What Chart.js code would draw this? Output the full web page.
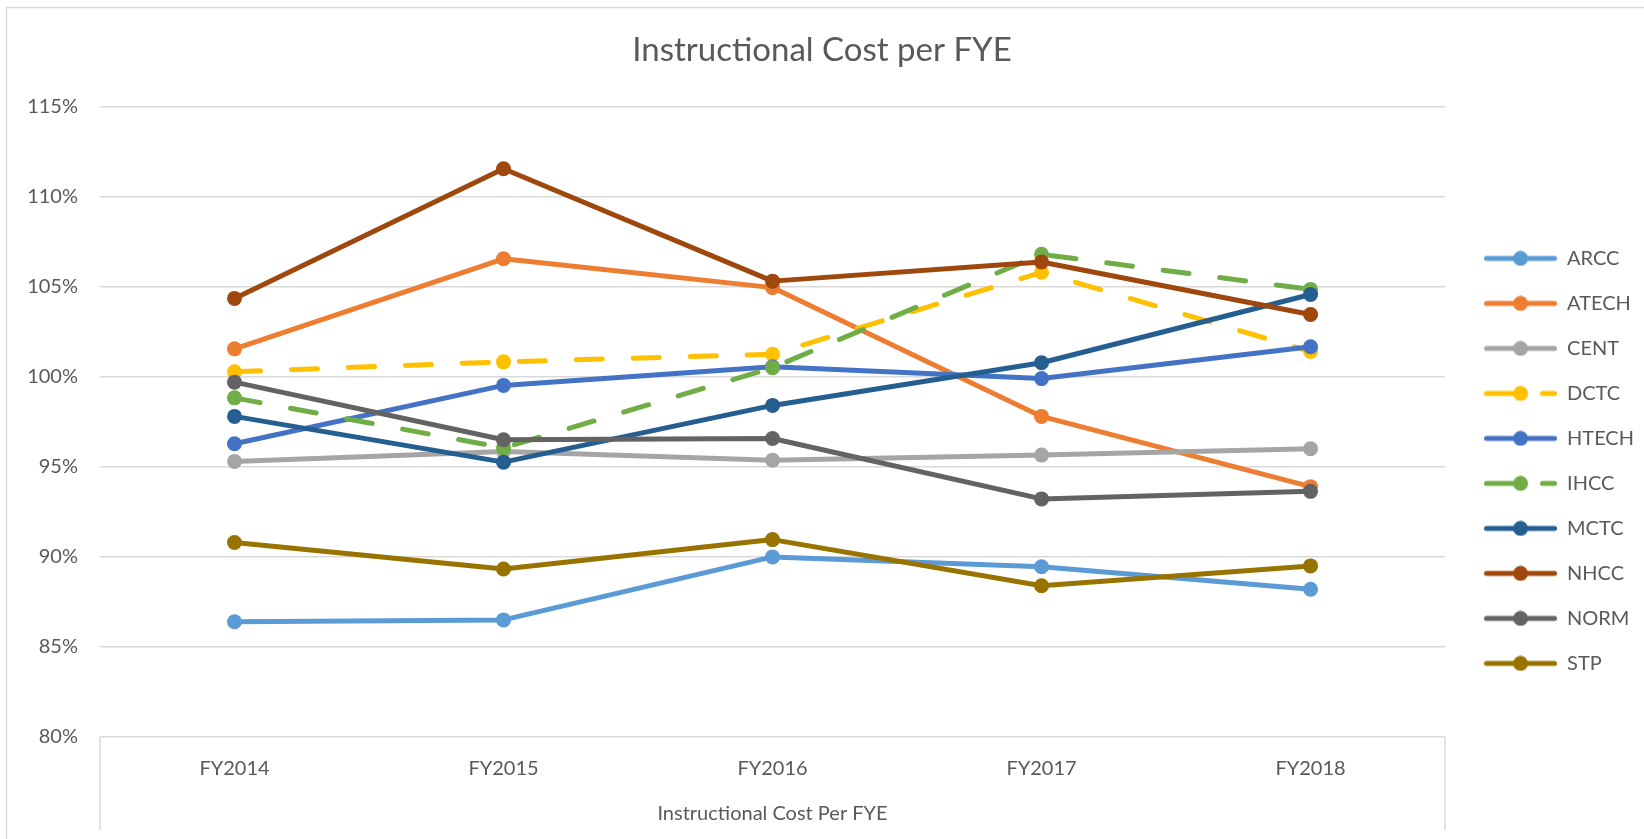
<!DOCTYPE html>
<html lang="en">
<head>
    <meta charset="UTF-8">
    <title>Instructional Cost per FYE</title>
    <script src="https://cdn.jsdelivr.net/npm/chart.js"></script>
    <style>
        html, body {
            margin: 0;
            padding: 0;
            background: #ffffff;
        }
        .chart-container {
            position: relative;
            width: 1644px;
            height: 839px;
        }
    </style>
</head>
<body>
    <div class="chart-container">
        <canvas id="costChart"></canvas>
    </div>

    <script>
        // Data
        const years = ['FY2014', 'FY2015', 'FY2016', 'FY2017', 'FY2018'];
        const colleges = ['ARCC', 'ATECH', 'CENT', 'DCTC', 'HTECH', 'IHCC', 'MCTC', 'NHCC', 'NORM', 'STP'];

        const arcc  = [86.4, 86.5, 90.0, 89.45, 88.2];
        const atech = [101.55, 106.55, 104.95, 97.8, 93.9];
        const cent  = [95.3, 95.85, 95.37, 95.65, 96.0];
        const dctc  = [100.28, 100.83, 101.25, 105.8, 101.4];
        const htech = [96.28, 99.52, 100.55, 99.9, 101.67];
        const ihcc  = [98.83, 96.05, 100.5, 106.8, 104.85];
        const mctc  = [97.8, 95.26, 98.41, 100.78, 104.57];
        const nhcc  = [104.35, 111.55, 105.31, 106.37, 103.46];
        const norm  = [99.7, 96.5, 96.57, 93.22, 93.64];
        const stp   = [90.8, 89.33, 90.96, 88.4, 89.5];

        const seriesValues = [arcc, atech, cent, dctc, htech, ihcc, mctc, nhcc, norm, stp];
        const seriesColors = ['#5B9BD5', '#ED7D31', '#A5A5A5', '#FFC000', '#4472C4',
                              '#70AD47', '#255E91', '#9E480E', '#636363', '#997300'];
        const dashedSeries = ['DCTC', 'IHCC'];

        const textColor = '#595959';
        const gridColor = '#D9D9D9';
        Chart.defaults.font.family = 'Lato, "Open Sans", sans-serif';

        // legend icon: line with a dot in the middle (Excel style)
        function makeIcon(color, dashed) {
            const c = document.createElement('canvas');
            c.width = 73;
            c.height = 16;
            const g = c.getContext('2d');
            g.strokeStyle = color;
            g.fillStyle = color;
            g.lineWidth = 5;
            g.lineCap = 'round';
            g.beginPath();
            if (dashed) {
                g.moveTo(2.5, 8); g.lineTo(36, 8);
                g.moveTo(58.5, 8); g.lineTo(70.5, 8);
            } else {
                g.moveTo(2.5, 8); g.lineTo(70.5, 8);
            }
            g.stroke();
            g.beginPath();
            g.arc(36.5, 8, 7.5, 0, Math.PI * 2);
            g.fill();
            return c;
        }

        const icons = colleges.map((name, i) => makeIcon(seriesColors[i], dashedSeries.includes(name)));

        const datasets = colleges.map((name, i) => {
            const dashed = dashedSeries.includes(name);
            return {
                label: name,
                data: seriesValues[i],
                borderColor: seriesColors[i],
                backgroundColor: seriesColors[i],
                pointBackgroundColor: seriesColors[i],
                pointBorderWidth: 0,
                pointRadius: 7.5,
                pointHoverRadius: 7.5,
                borderWidth: 5,
                borderDash: dashed ? [26, 31] : [],
                borderCapStyle: 'round',
                borderJoinStyle: 'round',
                tension: 0,
                fill: false,
                // later series on top, like Excel
                order: colleges.length - i
            };
        });

        // chart frame and the category box lines under the x axis
        const framePlugin = {
            id: 'frame',
            beforeDraw(chart) {
                const ctx = chart.ctx;
                const area = chart.chartArea;
                ctx.save();
                ctx.strokeStyle = gridColor;
                ctx.lineWidth = 1.5;
                ctx.strokeRect(6.5, 7.5, chart.width + 20, chart.height + 20);
                ctx.beginPath();
                ctx.moveTo(area.left, area.bottom);
                ctx.lineTo(area.left, chart.height - 9);
                ctx.moveTo(area.right, area.bottom);
                ctx.lineTo(area.right, chart.height - 9);
                ctx.stroke();
                ctx.restore();
            }
        };

        new Chart(document.getElementById('costChart'), {
            type: 'line',
            data: {
                labels: years,
                datasets: datasets
            },
            plugins: [framePlugin],
            options: {
                responsive: true,
                maintainAspectRatio: false,
                animation: false,
                layout: { padding: 0 },
                plugins: {
                    title: {
                        display: true,
                        text: 'Instructional Cost per FYE',
                        color: textColor,
                        font: { size: 33, weight: 'normal' },
                        padding: { top: 31, bottom: 36 }
                    },
                    legend: {
                        position: 'right',
                        align: 'start',
                        title: {
                            display: true,
                            text: '',
                            padding: { top: 209, bottom: 0 }
                        },
                        labels: {
                            usePointStyle: true,
                            pointStyleWidth: 73,
                            padding: 25,
                            color: textColor,
                            font: { size: 20 },
                            generateLabels: chart => chart.data.datasets.map((ds, i) => ({
                                text: ds.label,
                                pointStyle: icons[i],
                                datasetIndex: i,
                                hidden: !chart.isDatasetVisible(i),
                                fontColor: textColor,
                                lineWidth: 0,
                                strokeStyle: 'transparent',
                                fillStyle: 'transparent'
                            }))
                        }
                    },
                    tooltip: { enabled: false }
                },
                scales: {
                    x: {
                        offset: true,
                        grid: { display: false, drawTicks: false },
                        border: { display: false },
                        ticks: {
                            color: textColor,
                            font: { size: 20 },
                            padding: 20
                        },
                        title: {
                            display: true,
                            text: 'Instructional Cost Per FYE',
                            color: textColor,
                            font: { size: 20 },
                            padding: { top: 0, bottom: 13 }
                        },
                        afterFit(scale) { scale.height = 102; }
                    },
                    y: {
                        min: 80,
                        max: 115,
                        grid: { color: gridColor, lineWidth: 1.5, drawTicks: false },
                        border: { display: false },
                        ticks: {
                            stepSize: 5,
                            color: textColor,
                            font: { size: 20 },
                            padding: 22,
                            callback: value => value + '%'
                        },
                        afterFit(scale) { scale.width = 100; }
                    },
                    gap: {
                        position: 'right',
                        display: true,
                        grid: { display: false, drawTicks: false },
                        border: { display: false },
                        ticks: { display: false },
                        afterFit(scale) { scale.width = 14; }
                    }
                }
            }
        });
    </script>
</body>
</html>
